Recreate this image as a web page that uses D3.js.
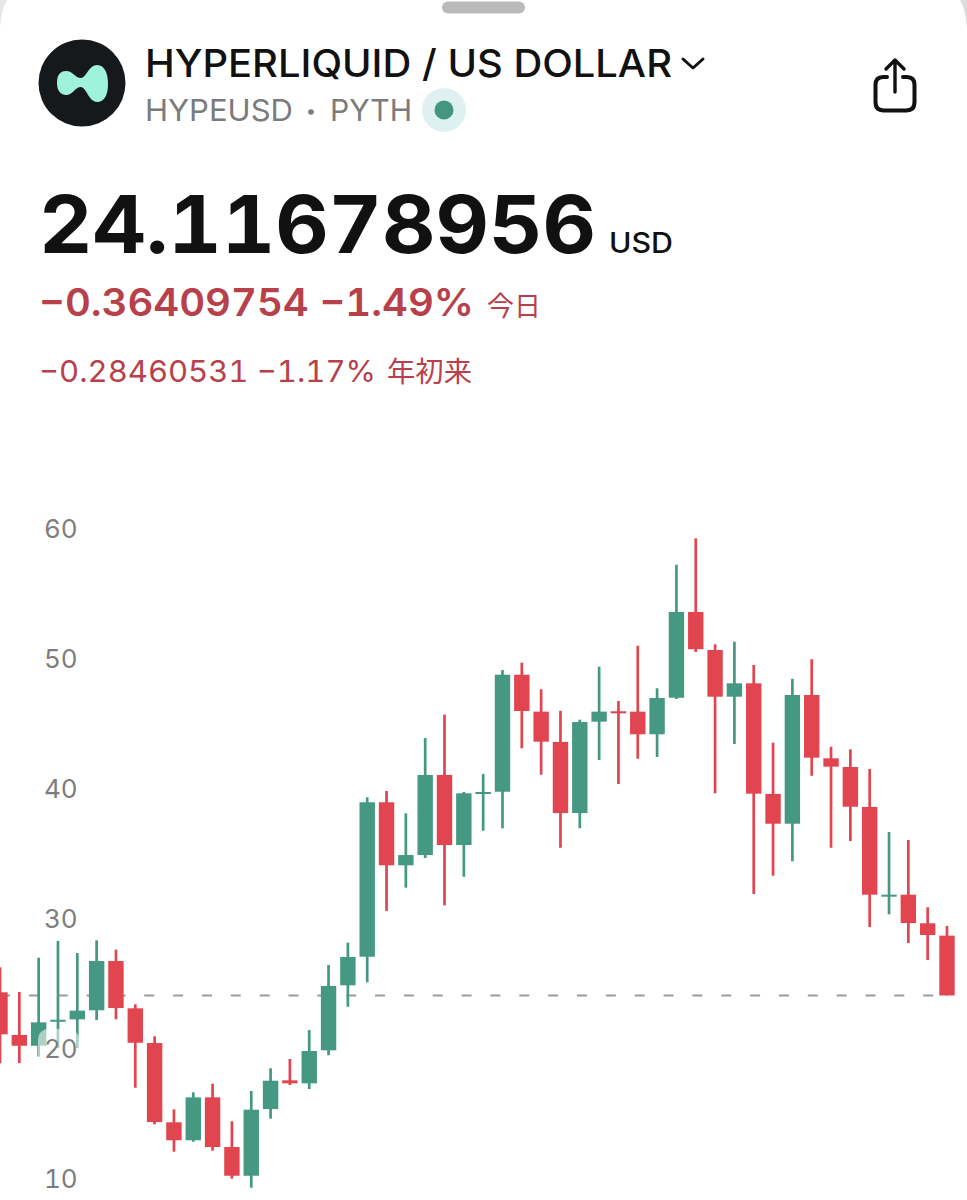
<!DOCTYPE html>
<html>
<head>
<meta charset="utf-8">
<script src="https://cdn.jsdelivr.net/npm/d3@7"></script>
<style>
  html, body { margin: 0; padding: 0; background: #fff; }
  svg { display: block; }
  text { font-family: Inter, "Noto Sans CJK JP", sans-serif; font-variant-numeric: tabular-nums; }
  .cjk { font-family: "Noto Sans CJK JP", sans-serif; }
</style>
</head>
<body>
<svg id="chart" width="967" height="1200"></svg>
<script>
// candle values (one entry per day, left to right)
const opens = [24.36, 21.08, 20.25, 22.10, 22.28, 22.98, 26.77, 23.13, 20.46, 14.36,
  12.98, 16.28, 12.46, 10.25, 15.38, 17.59, 17.36, 19.90, 24.90, 27.10,
  38.98, 34.13, 34.92, 41.08, 35.69, 39.64, 39.79, 48.79, 45.95, 43.62,
  38.15, 45.18, 45.98, 45.95, 44.21, 47.02, 53.62, 50.69, 47.10, 48.13,
  39.62, 37.33, 47.23, 42.36, 41.69, 38.62, 31.75, 31.87, 29.67, 28.72];
const highs = [26.28, 24.38, 27.02, 28.31, 27.38, 28.36, 27.64, 23.44, 20.98, 15.36,
  16.67, 17.33, 14.44, 16.77, 18.52, 19.23, 21.46, 26.46, 28.18, 39.36,
  39.85, 38.13, 43.92, 45.72, 39.77, 41.15, 49.15, 49.72, 47.67, 46.02,
  45.33, 49.41, 46.77, 51.02, 47.75, 57.25, 59.28, 51.13, 51.33, 49.54,
  43.56, 48.48, 49.98, 43.25, 43.05, 41.54, 36.69, 36.08, 30.90, 29.46];
const lows = [18.90, 18.92, 19.41, 20.08, 20.08, 22.23, 22.28, 17.02, 14.21, 12.10,
  12.87, 12.18, 10.02, 9.33, 14.64, 17.23, 16.92, 19.52, 23.25, 25.13,
  30.62, 32.41, 34.69, 31.05, 33.25, 36.79, 36.98, 43.13, 41.10, 35.48,
  36.98, 42.23, 40.38, 42.33, 42.46, 46.92, 50.54, 39.67, 43.46, 31.92,
  33.33, 34.44, 41.02, 35.48, 36.00, 29.38, 30.36, 28.15, 26.85, 24.12];
const closes = [21.13, 20.25, 22.05, 22.25, 22.95, 26.77, 23.15, 20.48, 14.38, 12.98,
  16.28, 12.46, 10.25, 15.33, 17.56, 17.36, 19.85, 24.85, 27.08, 38.98,
  34.13, 34.92, 41.08, 35.69, 39.67, 39.77, 48.79, 46.00, 43.64, 38.15,
  45.15, 45.95, 45.82, 44.21, 47.00, 53.62, 50.75, 47.10, 48.13, 39.64,
  37.33, 47.23, 42.41, 41.72, 38.64, 31.87, 31.87, 29.69, 28.77, 24.12];
const yTicks = [60, 50, 40, 30, 20, 10];
const lastPrice = 24.11678956;

const green = '#459881';
const red = '#e1454f';

const svg = d3.select('#chart');

const x = d3.scaleLinear().domain([0, opens.length - 1]).range([0, 947]);
const y = d3.scaleLinear().domain([60, 10]).range([529, 1179]);
const bodyWidth = 15.4;
const wickWidth = 2.7;

// sheet corners and grab handle
svg.append('path')
  .attr('d', 'M0,28 C1,16 3,7 7,0 L0,0 Z')
  .attr('fill', '#e6e6e6');
svg.append('path')
  .attr('d', 'M967,28 C966,16 964,7 960,0 L967,0 Z')
  .attr('fill', '#dcdcdc');
svg.append('rect')
  .attr('x', 442).attr('y', 1.5)
  .attr('width', 83).attr('height', 12)
  .attr('rx', 6)
  .attr('fill', '#b9b9b9');

// logo
svg.append('circle').attr('cx', 82).attr('cy', 83).attr('r', 43.5).attr('fill', '#15191c');
svg.append('path')
  .attr('d', 'M57,83 C57,74 61,71 66,71 C73,71 75,78 81,78 C86,78 89,65 97,65 C105,65 108,74 108,84 C108,94 105,102 97,102 C89,102 86,87 81,87 C75,87 73,95 66,95 C61,95 57,91 57,83 Z')
  .attr('fill', '#9ff3dc');

// header texts, width is what the text measures in the reference
function label(txt, xPos, yPos, size, weight, fill, width, cls) {
  const t = svg.append('text')
    .attr('class', cls || null)
    .attr('x', xPos).attr('y', yPos)
    .attr('font-size', size)
    .attr('font-weight', weight)
    .attr('fill', fill)
    .text(txt);
  if (width) t.attr('textLength', width).attr('lengthAdjust', 'spacingAndGlyphs');
  return t;
}

label('HYPERLIQUID / US DOLLAR', 145, 77, 38, 500, '#111', 527);
svg.append('path')
  .attr('d', 'M683,59 L693,68 L703,59')
  .attr('fill', 'none').attr('stroke', '#111')
  .attr('stroke-width', 3).attr('stroke-linecap', 'round').attr('stroke-linejoin', 'round');

label('HYPEUSD', 145, 121, 30, 400, '#7b7b7b', 148);
svg.append('circle').attr('cx', 311).attr('cy', 112).attr('r', 2.8).attr('fill', '#7b7b7b');
label('PYTH', 330, 121, 30, 400, '#7b7b7b', 82);
svg.append('circle').attr('cx', 444).attr('cy', 110).attr('r', 22).attr('fill', '#dff0f3');
svg.append('circle').attr('cx', 444).attr('cy', 110).attr('r', 9.5).attr('fill', '#439781');

label('24.11678956', 39, 253, 80, 700, '#111', 557);
label('USD', 609, 253, 28, 500, '#111', 64);

label('\u22120.36409754 \u22121.49%', 39, 316, 38, 600, '#b8404a', 435);
label('今日', 487, 316, 27, 400, '#b8404a', 54, 'cjk');
label('\u22120.28460531 \u22121.17%', 39, 382, 30, 400, '#b8404a', 337);
label('年初来', 387, 382, 28, 400, '#b8404a', 85, 'cjk');

// share icon
svg.append('path')
  .attr('d', 'M887,77 H883 Q875.5,77 875.5,85 V102 Q875.5,110.5 884,110.5 H906 Q914.5,110.5 914.5,102 V85 Q914.5,77 907,77 H903')
  .attr('fill', 'none').attr('stroke', '#111').attr('stroke-width', 4).attr('stroke-linecap', 'round');
svg.append('path')
  .attr('d', 'M895,92 V61 M886,69 L895,60 L904,69')
  .attr('fill', 'none').attr('stroke', '#111').attr('stroke-width', 3.4)
  .attr('stroke-linecap', 'round').attr('stroke-linejoin', 'round');

// last price line
svg.append('line')
  .attr('x1', 0).attr('x2', x(opens.length - 1))
  .attr('y1', y(lastPrice)).attr('y2', y(lastPrice))
  .attr('stroke', '#9b9b9b').attr('stroke-width', 2)
  .attr('stroke-dasharray', '10 18.85');

// candles
const candle = svg.selectAll('.candle')
  .data(opens.map((o, i) => i))
  .enter()
    .append('g')
    .attr('class', 'candle')
    .attr('fill', i => closes[i] >= opens[i] ? green : red);

candle.append('rect')
  .attr('x', i => x(i) - wickWidth / 2)
  .attr('width', wickWidth)
  .attr('y', i => y(highs[i]))
  .attr('height', i => y(lows[i]) - y(highs[i]));

candle.append('rect')
  .attr('x', i => x(i) - bodyWidth / 2)
  .attr('width', bodyWidth)
  .attr('y', i => y(Math.max(opens[i], closes[i])))
  .attr('height', i => Math.max(2, Math.abs(y(opens[i]) - y(closes[i]))));

// the price labels sit on a see-through plate, it only shows where candles pass under it
svg.append('rect')
  .attr('x', 38).attr('y', y(20) - 20)
  .attr('width', 41).attr('height', 40)
  .attr('rx', 10)
  .attr('fill', 'rgba(255,255,255,0.55)');

const axis = d3.axisRight(y)
  .tickValues(yTicks)
  .tickSize(0)
  .tickPadding(0);

svg.append('g')
  .attr('transform', 'translate(44,0)')
  .call(axis)
  .call(g => g.select('.domain').remove())
  .selectAll('text')
    .attr('font-size', 26)
    .attr('font-family', 'Inter, sans-serif')
    .attr('fill', '#7d7d7d');
</script>
</body>
</html>
